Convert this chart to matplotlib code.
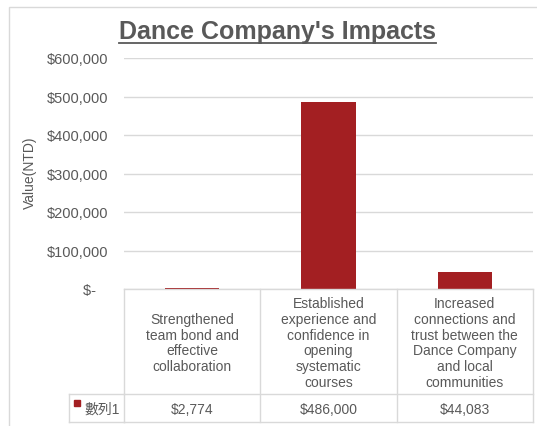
import matplotlib
matplotlib.use("Agg")
import matplotlib.pyplot as plt
import matplotlib.transforms as mtransforms
from matplotlib.lines import Line2D
from matplotlib.patches import Rectangle

# ── Data ────────────────────────────────────────────────────────────────
categories = [
    "Strengthened\nteam bond and\neffective\ncollaboration",
    "Established\nexperience and\nconfidence in\nopening\nsystematic\ncourses",
    "Increased\nconnections and\ntrust between the\nDance Company\nand local\ncommunities",
]
values = [2774, 486000, 44083]
value_labels = ["$2,774", "$486,000", "$44,083"]
series_name = "數列1"
yticks = [0, 100000, 200000, 300000, 400000, 500000, 600000]
ytick_labels = ["$-   ", "$100,000", "$200,000", "$300,000",
                "$400,000", "$500,000", "$600,000"]

# ── Style ───────────────────────────────────────────────────────────────
W, H = 537, 427
BAR = "#a31f22"
TXT = "#595959"
GRID = "#d9d9d9"
plt.rcParams["font.family"] = ["Liberation Sans", "Noto Sans CJK TC", "DejaVu Sans"]

fig = plt.figure(figsize=(W / 100, H / 100), dpi=100, facecolor="white")
ax = fig.add_axes([124 / W, 1 - 290 / H, (533 - 124) / W, (290 - 59) / H])

def fy(py):
    # pixel row (from top) -> figure fraction
    return 1 - py / H

def fx(px):
    return px / W

# outer chart border
fig.add_artist(Rectangle((fx(9), fy(440)), fx(540) - fx(9), fy(8) - fy(440),
                         transform=fig.transFigure, fill=False,
                         edgecolor="#d9d9d9", linewidth=1))

x = list(range(len(values)))
ax.bar(x, values, width=0.4, color=BAR, zorder=3)

ax.set_xlim(-0.5, len(values) - 0.5)
ax.set_ylim(0, 600000)
ax.set_yticks(yticks)
ax.set_yticklabels(ytick_labels, fontsize=10.5, color=TXT)
ax.tick_params(axis="y", length=0, pad=11)
ax.set_xticks([])
ax.grid(axis="y", color=GRID, linewidth=1, zorder=0)
for s in ax.spines.values():
    s.set_visible(False)

# y label placed in figure coords
fig.text(fx(30), 1 - 173 / H, "Value(NTD)", rotation=90, ha="center", va="center",
         fontsize=10, color=TXT)

# ── Data table below the axis ───────────────────────────────────────────
tr = mtransforms.blended_transform_factory(ax.transData, fig.transFigure)
top, mid, bot = 290, 395, 423
xl, xr = -0.5, len(values) - 0.5

def hline(py, x0, x1, trans):
    fig.add_artist(Line2D([x0, x1], [fy(py), fy(py)], transform=trans,
                          color=GRID, linewidth=1))

hline(top, xl, xr, tr)
hline(mid, xl, xr, tr)
hline(bot, xl, xr, tr)
# legend cell
hline(mid, fx(69), fx(124), fig.transFigure)
hline(bot, fx(69), fx(124), fig.transFigure)
fig.add_artist(Line2D([fx(69), fx(69)], [fy(mid), fy(bot)], transform=fig.transFigure,
                      color=GRID, linewidth=1))
for b in [i - 0.5 for i in range(len(values) + 1)]:
    fig.add_artist(Line2D([b, b], [fy(top), fy(bot)], transform=tr,
                          color=GRID, linewidth=1))

for i, (cat, lab) in enumerate(zip(categories, value_labels)):
    fig.text(i, fy((top + mid) / 2 + 1), cat, transform=tr, ha="center", va="center",
             fontsize=10, color=TXT, linespacing=1.18)
    fig.text(i, fy((mid + bot) / 2 + 1), lab, transform=tr, ha="center", va="center",
             fontsize=10, color=TXT)

fig.add_artist(Rectangle((fx(74), fy(407)), fx(6), fy(0) - fy(6),
                         transform=fig.transFigure, color=BAR))
fig.text(fx(84), fy((mid + bot) / 2 + 1), series_name, ha="left", va="center",
         fontsize=10, color=TXT)

# ── Title (underlined) ──────────────────────────────────────────────────
title = fig.text(fx(277.5), fy(38.5), "Dance Company's Impacts", ha="center", va="baseline",
                 fontsize=18, fontweight="bold", color=TXT)
fig.canvas.draw()
bb = title.get_window_extent()
fig.add_artist(Line2D([bb.x0 / W, bb.x1 / W], [fy(43.5), fy(43.5)], transform=fig.transFigure,
                      color=TXT, linewidth=1.3))

fig.savefig("out.png", dpi=100, facecolor="white")
